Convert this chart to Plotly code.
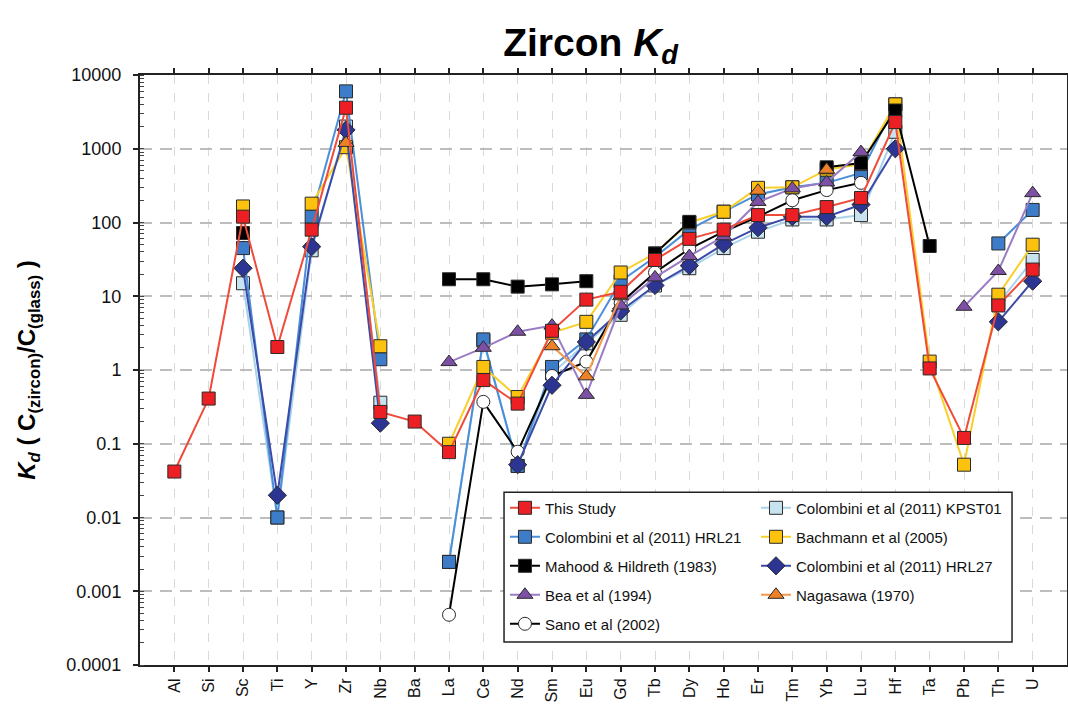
import plotly.graph_objects as go

# Zircon/glass partition coefficients by element
elements = ["Al", "Si", "Sc", "Ti", "Y", "Zr", "Nb", "Ba", "La", "Ce", "Nd", "Sm", "Eu",
            "Gd", "Tb", "Dy", "Ho", "Er", "Tm", "Yb", "Lu", "Hf", "Ta", "Pb", "Th", "U"]
N = None

this_study = [0.042, 0.41, 120, 2.05, 80, 3600, 0.27, 0.20, 0.077, 0.73, 0.35, 3.4, 9.0,
              11.5, 31, 60, 80, 126, 126, 162, 215, 2300, 1.05, 0.12, 7.5, 23]
colombini_hrl21 = [N, N, 45, 0.010, 120, 6000, 1.4, N, 0.0025, 2.6, 0.050, 1.1, 2.6,
                   16, 34, 80, 140, 240, 300, 345, 470, 4000, N, N, 52, 148]
colombini_kpst01 = [N, N, 15, 0.010, 42, 2000, 0.36, N, 0.0025, 2.5, 0.050, 0.9, 2.3,
                    5.6, 14, 24, 45, 75, 110, 110, 126, 1700, N, N, 8, 31]
bachmann = [N, N, 165, N, 180, 1050, 2.1, N, 0.10, 1.1, 0.43, 3.2, 4.5,
            21, 38, 100, 140, 295, 300, 520, 620, 4000, 1.3, 0.052, 10.5, 50]
mahood = [N, N, 72, N, N, N, N, N, 17, 17, 13.5, 14.5, 16,
          N, 38, 102, N, N, N, 560, 640, 3300, 48, N, N, N]
colombini_hrl27 = [N, N, 24, 0.020, 47, 1800, 0.19, N, N, N, 0.052, 0.62, 2.4,
                   6.3, 14, 26, 51, 85, 120, 120, 175, 1000, N, N, 4.5, 16]
bea = [N, N, N, N, N, N, N, N, 1.28, 2.0, 3.3, 4.0, 0.46,
       7.5, 18, 35, 65, 190, 290, 350, 900, N, N, 7.2, 22, 250]
nagasawa = [N, N, N, N, N, 1200, N, N, N, N, N, 2.1, 0.82,
            10, N, N, N, 270, N, 520, N, N, N, N, N, N]
sano = [N, N, N, N, N, N, N, N, 0.00048, 0.37, 0.078, 0.83, 1.3,
        8.1, 21, 44, 75, 120, 200, 275, 345, N, N, N, N, N]

y_tickvals = [1e4, 1e3, 1e2, 1e1, 1, 0.1, 0.01, 0.001, 0.0001]
y_ticktext = ["10000", "1000", "100", "10", "1", "0.1", "0.01", "0.001", "0.0001"]

# (name, values, symbol, fill, line colour, marker size, legend column, rank), in drawing order
series = [
    ("Colombini et al (2011) KPST01", colombini_kpst01, "square", "#c6e3ef", "#a9d3ea", 13, "legend2", 1),
    ("Colombini et al (2011) HRL21", colombini_hrl21, "square", "#3d7cc9", "#4a8fd8", 13, "legend", 2),
    ("Bachmann et al (2005)", bachmann, "square", "#fcc20e", "#f9cf2b", 13, "legend2", 2),
    ("Mahood & Hildreth (1983)", mahood, "square", "#000000", "#000000", 13, "legend", 3),
    ("Sano et al (2002)", sano, "circle", "#ffffff", "#000000", 13, "legend", 5),
    ("Colombini et al (2011) HRL27", colombini_hrl27, "diamond", "#2c3592", "#3c4aa8", 14, "legend2", 3),
    ("Bea et al (1994)", bea, "triangle-up", "#7d4fa5", "#9a7cc4", 14, "legend", 4),
    ("Nagasawa (1970)", nagasawa, "triangle-up", "#ee8127", "#f29a4a", 14, "legend2", 4),
    ("This Study", this_study, "square", "#ec2024", "#ef4a3a", 13, "legend", 1),
]

fig = go.Figure()
for name, vals, sym, fill, lcol, size, leg, rank in series:
    fig.add_trace(go.Scatter(
        x=elements, y=vals, name=name, mode="lines+markers",
        connectgaps=False, legend=leg, legendgroup=name, legendrank=rank,
        line=dict(color=lcol, width=2),
        marker=dict(symbol=sym, size=size, color=fill,
                    line=dict(color="#2a2a2a", width=1)),
    ))

font_family = "Liberation Sans, Arial, sans-serif"
legend_font = dict(size=15, family=font_family, color="#111111")

# legend frame, in paper coordinates
box_x0, box_x1, box_y0, box_y1 = 0.3927, 0.9407, 0.039, 0.293

fig.update_layout(
    width=1068, height=707,
    margin=dict(l=140, r=1, t=75, b=42),
    paper_bgcolor="white", plot_bgcolor="white",
    font=dict(family=font_family, color="#111111"),
    showlegend=True,
    legend=dict(
        orientation="v", x=box_x0 + 0.001, y=0.294, xanchor="left", yanchor="top",
        bgcolor="rgba(0,0,0,0)", borderwidth=0, tracegroupgap=6.5,
        font=legend_font, traceorder="grouped",
    ),
    legend2=dict(
        orientation="v", x=0.6645, y=0.294, xanchor="left", yanchor="top",
        bgcolor="rgba(0,0,0,0)", borderwidth=0, tracegroupgap=6.5,
        font=legend_font, traceorder="grouped",
    ),
    title=dict(
        text="<b>Zircon <i>K</i><sub><i>d</i></sub></b>",
        x=0.553, xanchor="center", y=0.94, yanchor="middle",
        font=dict(size=39, family=font_family, color="#000000"),
    ),
    xaxis=dict(
        type="category", categoryorder="array", categoryarray=elements,
        range=[-1, 26], tickangle=-90, tickfont=dict(size=16),
        showline=True, linecolor="#222222", linewidth=2, mirror="ticks",
        ticks="outside", ticklen=5, tickwidth=1.5, tickcolor="#222222",
        showgrid=True, gridcolor="#d9d9d9", gridwidth=1, griddash="dash",
        zeroline=False, automargin=False,
    ),
    xaxis2=dict(
        overlaying="x", range=[-1, 26], tickvals=list(range(len(elements))),
        showticklabels=False, ticks="inside", ticklen=6, tickwidth=1.5,
        tickcolor="#222222", mirror="ticks", showline=False, showgrid=False,
        zeroline=False,
    ),
    yaxis=dict(
        type="log", range=[-4, 4], tickvals=y_tickvals, ticktext=y_ticktext,
        tickfont=dict(size=18), ticklabelstandoff=8,
        showline=True, linecolor="#222222", linewidth=2, mirror=True,
        ticks="outside", ticklen=5, tickwidth=1.5, tickcolor="#222222",
        minor=dict(ticks="inside", ticklen=4, tickwidth=1, tickcolor="#444444",
                   dtick="D1", showgrid=False),
        showgrid=True, gridcolor="#bdbdbd", gridwidth=2, griddash="12px,8px",
        zeroline=False, automargin=False,
    ),
    shapes=[dict(
        type="rect", xref="paper", yref="paper", layer="above",
        x0=box_x0, x1=box_x1, y0=box_y0, y1=box_y1,
        line=dict(color="#222222", width=1.5), fillcolor="white",
    )],
)

fig.add_annotation(
    text="<b><i>K</i><sub><i>d</i></sub> ( C<sub>(zircon)</sub>/C<sub>(glass)</sub> )</b>",
    xref="paper", yref="paper", x=-0.121, y=0.5, xanchor="center", yanchor="middle",
    textangle=-90, showarrow=False, font=dict(size=24, family=font_family, color="#000000"),
)

fig.write_html("out.html")
